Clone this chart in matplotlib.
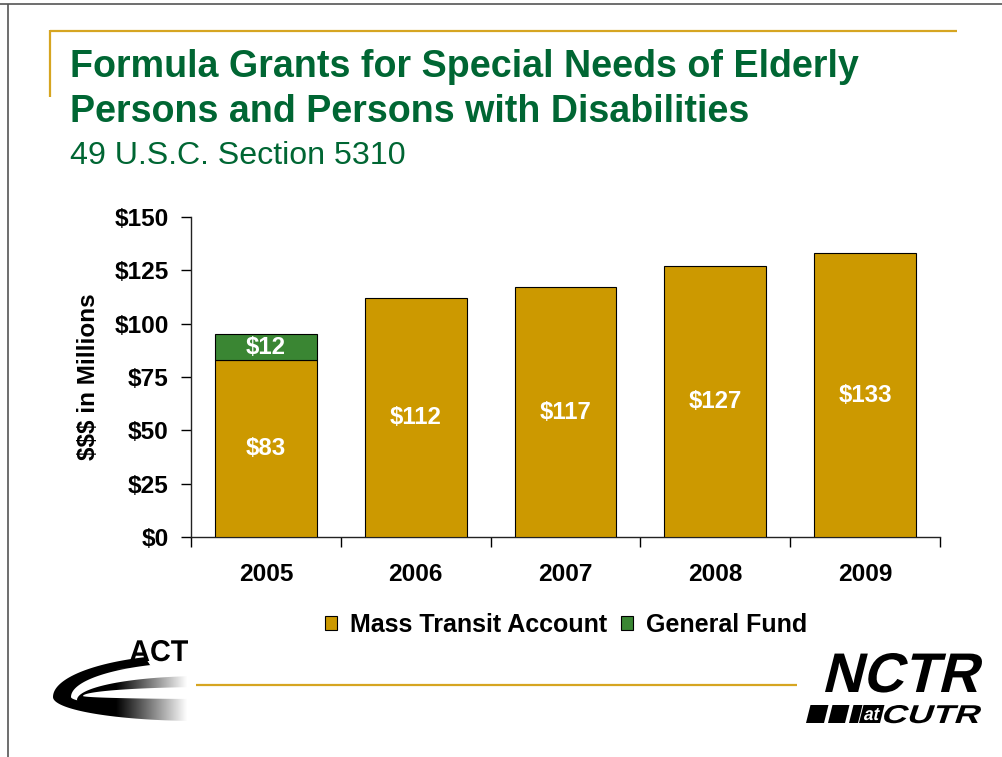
import matplotlib
matplotlib.use("Agg")
import matplotlib.pyplot as plt
import numpy as np
from matplotlib.patches import Rectangle, Polygon, PathPatch
from matplotlib.textpath import TextPath
from matplotlib.font_manager import FontProperties
from matplotlib.transforms import Affine2D

# ---- data -------------------------------------------------------------
years = ["2005", "2006", "2007", "2008", "2009"]
mass_transit = [83, 112, 117, 127, 133]
general_fund = [12, 0, 0, 0, 0]
y_ticks = [0, 25, 50, 75, 100, 125, 150]
y_tick_labels = ["$0", "$25", "$50", "$75", "$100", "$125", "$150"]
series_names = ["Mass Transit Account", "General Fund"]

title_lines = ["Formula Grants for Special Needs of Elderly",
               "Persons and Persons with Disabilities"]
subtitle = "49 U.S.C. Section 5310"

# ---- style ------------------------------------------------------------
GOLD = "#CC9900"
GREEN = "#3A8633"
TITLE_GREEN = "#006633"
RULE_GOLD = "#D6A521"

plt.rcParams["font.family"] = ["Liberation Sans", "DejaVu Sans"]
plt.rcParams["text.parse_math"] = False

W, H = 1003, 757
fig = plt.figure(figsize=(W / 100, H / 100), dpi=100)
fig.patch.set_facecolor("white")

# ---- slide decoration layer (pixel coordinates, y downwards) -----------
deco = fig.add_axes([0, 0, 1, 1], zorder=0)
deco.set_xlim(0, W)
deco.set_ylim(H, 0)
deco.axis("off")

# slide frame
deco.plot([0, W], [4, 4], color="#555555", lw=1.2, solid_capstyle="butt")
deco.plot([8, 8], [4, H], color="#555555", lw=1.2, solid_capstyle="butt")
# gold rules
deco.plot([50, 957], [30.5, 30.5], color=RULE_GOLD, lw=1.6, solid_capstyle="butt")
deco.plot([50, 50], [30, 97], color=RULE_GOLD, lw=1.6, solid_capstyle="butt")
deco.plot([195, 797], [685, 685], color=RULE_GOLD, lw=1.6, solid_capstyle="butt")


def text_shape(ax, s, box, skew=0.0, color="black", z=3):
    """Draw s as a filled outline stretched into box=(x0, x1, ytop, ybase)."""
    x0, x1, ytop, ybase = box
    tp = TextPath((0, 0), s, size=1,
                  prop=FontProperties(family="Liberation Sans", weight="bold"))
    path = Affine2D().skew_deg(skew, 0).transform_path(tp)
    ext = path.get_extents()
    sx = (x1 - x0) / (ext.x1 - ext.x0)
    sy = (ybase - ytop) / ext.y1
    t = Affine2D().translate(-ext.x0, 0).scale(sx, -sy).translate(x0, ybase)
    ax.add_patch(PathPatch(t.transform_path(path), fc=color, ec="none", zorder=z))


def egg(cx, cy, a, b_top, b_bot, n=120):
    """Left half of an egg shape: separate vertical radii above and below."""
    th = np.linspace(np.pi / 2, 3 * np.pi / 2, n)
    xs = cx + a * np.cos(th)
    s = np.sin(th)
    ys = np.where(s > 0, cy - b_top * s, cy - b_bot * s)
    pts = np.column_stack([xs, ys])
    pts = np.vstack([pts, [[cx + 60, cy + b_bot], [cx + 60, cy - b_top]]])
    return pts


# ACT logo: layered swoosh fading to the right
clip = Polygon([(40, 630), (128, 630), (150, 665), (193, 665), (193, 735), (40, 735)],
               closed=True, transform=deco.transData)
for params, fc in [((200, 697, 147, 43, 24), "black"),
                   ((205, 697, 134, 35, 11), "white"),
                   ((205, 700, 128, 24, 13), "black"),
                   ((215, 696, 132, 9, 3), "white")]:
    p = Polygon(egg(*params), closed=True, fc=fc, ec="none", zorder=2)
    deco.add_patch(p)
    p.set_clip_path(clip)
fade = np.ones((2, 200, 4))
fade[..., 3] = np.clip(np.linspace(-0.05, 1.1, 200), 0, 1)[None, :]
deco.imshow(fade, extent=(112, 194, 737, 668), aspect="auto", zorder=2.5,
            interpolation="bilinear")
deco.add_patch(Rectangle((193, 630), 3, 110, fc="white", ec="none", zorder=2.6))
text_shape(deco, "ACT", (130, 188, 640, 661), skew=0, z=3)
deco.set_xlim(0, W)
deco.set_ylim(H, 0)

# NCTR at CUTR logo
text_shape(deco, "NCTR", (825, 982, 653, 692), skew=14, z=3)
s = 18 * np.tan(np.radians(14))
for xa, xb in [(806, 824), (828, 845), (849, 858)]:
    deco.add_patch(Polygon([(xa, 723), (xb, 723), (xb + s, 705), (xa + s, 705)],
                           closed=True, fc="black", ec="none", zorder=3))
deco.add_patch(Polygon([(859, 723), (880, 723), (880 + s, 705), (859 + s, 705)],
                       closed=True, fc="black", ec="none", zorder=3))
text_shape(deco, "at", (864, 880, 708, 720), skew=14, color="white", z=4)
text_shape(deco, "CUTR", (884, 981, 705, 723), skew=14, z=3)

# ---- titles -----------------------------------------------------------
fig.text(70 / W, 1 - 77 / H, title_lines[0], fontsize=27.1, fontweight="bold",
         color=TITLE_GREEN, va="baseline", ha="left")
fig.text(70 / W, 1 - 122 / H, title_lines[1], fontsize=27.1, fontweight="bold",
         color=TITLE_GREEN, va="baseline", ha="left")
fig.text(70 / W, 1 - 164 / H, subtitle, fontsize=23.1, color=TITLE_GREEN,
         va="baseline", ha="left")

# ---- chart ------------------------------------------------------------
ax = fig.add_axes([191 / W, 1 - 537 / H, (940 - 191) / W, (537 - 217) / H], zorder=1)
ax.patch.set_alpha(0)
x = np.arange(len(years))
mt = np.array(mass_transit)
gf = np.array(general_fund)

bars_mt = ax.bar(x, mt, width=0.68, color=GOLD, edgecolor="black",
                 linewidth=0.8, zorder=3, label=series_names[0])
has_gf = gf > 0
bars_gf = ax.bar(x[has_gf], gf[has_gf], bottom=mt[has_gf], width=0.68, color=GREEN,
                 edgecolor="black", linewidth=0.8, zorder=3, label=series_names[1])

for xi, v in zip(x, mt):
    ax.text(xi, v / 2, f"${v}", ha="center", va="center", color="white",
            fontsize=17.3, fontweight="bold", zorder=4)
for xi, base, v in zip(x[has_gf], mt[has_gf], gf[has_gf]):
    ax.text(xi, base + v / 2, f"${v}", ha="center", va="center", color="white",
            fontsize=17.3, fontweight="bold", zorder=4)

ax.set_xlim(-0.5, len(years) - 0.5)
ax.set_ylim(0, 150)
ax.set_yticks(y_ticks)
ax.set_yticklabels(y_tick_labels)
ax.set_xticks(x)
ax.set_xticklabels(years)
ax.set_xticks(np.arange(-0.5, len(years)), minor=True)

ax.tick_params(axis="y", length=7, width=1, pad=9, labelsize=17.6, colors="black")
ax.tick_params(axis="x", which="major", length=0, pad=19, labelsize=17.6)
ax.tick_params(axis="x", which="minor", length=7, width=1, direction="out")
for lab in ax.get_xticklabels() + ax.get_yticklabels():
    lab.set_fontweight("bold")

for side in ("top", "right"):
    ax.spines[side].set_visible(False)
for side in ("left", "bottom"):
    ax.spines[side].set_linewidth(1)
    ax.spines[side].set_color("#222222")

ax.set_ylabel("$$$ in Millions", fontsize=17.5, fontweight="bold")
ax.yaxis.set_label_coords((100 - 191) / 749, 0.5)

fig.legend(handles=[bars_mt, bars_gf], labels=series_names, loc="center",
           bbox_to_anchor=(566 / W, 1 - 625 / H), ncol=2, frameon=False,
           prop={"size": 18, "weight": "bold"}, handlelength=0.5,
           handleheight=0.5, handletextpad=0.5, columnspacing=0.55)

fig.savefig("out.png", dpi=100, facecolor="white")
